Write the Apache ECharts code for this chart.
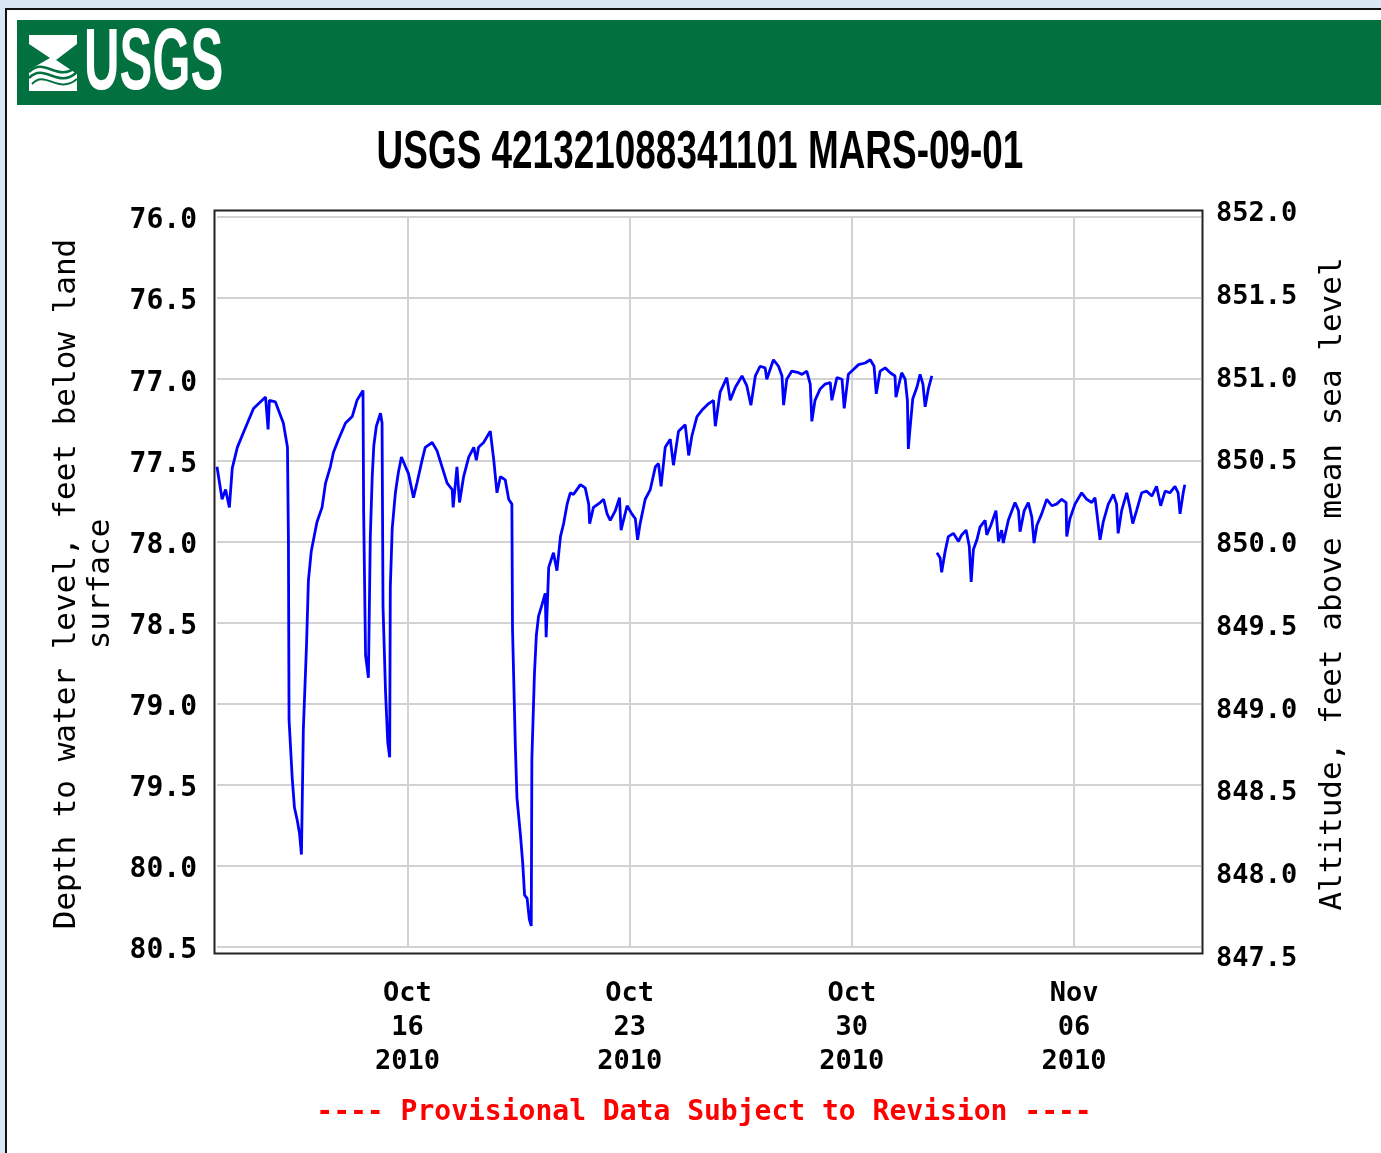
<!DOCTYPE html>
<html><head><meta charset="utf-8">
<script src="https://cdn.jsdelivr.net/npm/echarts@6/dist/echarts.min.js"></script>
<style>
html,body{margin:0;padding:0;background:#dbe7f4;overflow:hidden;}
#panel{position:absolute;left:5px;top:8px;width:1400px;height:1200px;background:#fff;border-left:2px solid #111;border-top:2px solid #111;}
#c{position:absolute;left:0;top:0;width:1381px;height:1153px;}
</style>
</head><body><div id="panel"></div><div id="c"></div>
<script>
// Time: days since 2010-10-10 00:00 ; value: depth to water level (feet below land surface)
const days = [
0.00,0.16,0.27,0.39,0.48,0.64,0.83,1.15,1.53,1.61,1.65,1.84,2.09,2.22,2.25,2.27,2.37,2.44,2.53,2.60,
2.66,2.72,2.82,2.88,2.97,3.10,3.15,3.31,3.42,3.57,3.67,3.83,4.05,4.26,4.41,4.60,4.62,4.68,4.77,4.83,
4.89,4.94,5.02,5.15,5.20,5.23,5.31,5.38,5.44,5.46,5.52,5.62,5.71,5.81,5.94,6.03,6.19,6.30,6.46,6.56,
6.78,6.93,7.09,7.25,7.41,7.44,7.56,7.64,7.77,7.93,8.09,8.17,8.24,8.40,8.61,8.72,8.82,8.93,9.08,9.19,
9.29,9.31,9.40,9.45,9.56,9.63,9.69,9.77,9.84,9.90,9.92,10.00,10.06,10.13,10.24,10.34,10.37,10.45,10.60,10.71,
10.82,10.92,11.03,11.13,11.23,11.45,11.60,11.71,11.74,11.86,12.07,12.18,12.29,12.39,12.55,12.68,12.73,12.92,13.07,13.18,
13.25,13.33,13.49,13.65,13.81,13.91,13.99,14.12,14.28,14.38,14.54,14.75,14.86,14.96,15.12,15.28,15.49,15.64,15.70,15.85,
16.06,16.17,16.33,16.54,16.69,16.82,16.96,17.11,17.27,17.32,17.53,17.69,17.80,17.85,17.95,18.11,18.32,18.43,18.58,18.69,
18.74,18.84,19.00,19.16,19.32,19.37,19.53,19.69,19.76,19.89,20.05,20.21,20.42,20.58,20.70,20.77,20.89,21.05,21.21,21.36,
21.39,21.57,21.68,21.75,21.78,21.83,21.92,22.05,22.15,22.24,22.31,22.41,22.52,
22.60,
22.68,22.78,22.83,22.94,23.04,23.20,23.36,23.46,23.60,23.70,23.76,23.83,23.94,24.04,24.20,24.25,24.38,24.54,24.62,24.72,
24.77,24.93,25.14,25.25,25.30,25.43,25.56,25.67,25.74,25.83,25.98,26.14,26.30,26.45,26.61,26.75,26.77,26.87,27.03,27.24,
27.40,27.56,27.66,27.71,27.82,27.92,28.08,28.24,28.34,28.39,28.50,28.66,28.76,28.85,28.97,29.13,29.29,29.45,29.60,29.73,
29.87,30.02,30.18,30.28,30.34,30.44,30.49
];
const depth = [
77.54,77.74,77.68,77.79,77.55,77.42,77.33,77.18,77.11,77.31,77.13,77.14,77.27,77.42,77.99,79.10,79.46,79.64,79.72,79.80,
79.93,79.16,78.64,78.24,78.06,77.93,77.88,77.79,77.64,77.54,77.45,77.37,77.27,77.23,77.13,77.07,77.82,78.70,78.84,77.97,
77.60,77.41,77.29,77.21,77.27,78.40,78.93,79.24,79.33,78.28,77.92,77.70,77.58,77.48,77.54,77.58,77.73,77.64,77.50,77.42,
77.39,77.44,77.54,77.64,77.68,77.79,77.54,77.76,77.60,77.48,77.42,77.50,77.42,77.39,77.32,77.50,77.70,77.60,77.62,77.74,
77.77,78.54,79.27,79.58,79.81,79.98,80.18,80.20,80.33,80.37,79.34,78.82,78.58,78.46,78.39,78.32,78.59,78.16,78.07,78.18,
77.97,77.89,77.77,77.70,77.71,77.65,77.67,77.77,77.89,77.79,77.76,77.74,77.83,77.87,77.81,77.73,77.93,77.78,77.83,77.86,
77.99,77.89,77.74,77.68,77.54,77.52,77.66,77.42,77.37,77.53,77.32,77.28,77.47,77.35,77.23,77.19,77.15,77.13,77.29,77.08,
76.99,77.13,77.05,76.98,77.04,77.16,76.98,76.92,76.93,77.00,76.88,76.92,76.98,77.16,77.00,76.95,76.96,76.97,76.95,77.03,
77.26,77.13,77.06,77.03,77.02,77.13,76.99,77.00,77.18,76.97,76.94,76.91,76.90,76.88,76.92,77.09,76.95,76.93,76.96,76.98,
77.11,76.96,77.00,77.13,77.43,77.31,77.12,77.05,76.97,77.03,77.17,77.06,76.98,
null,
78.07,78.10,78.19,78.06,77.97,77.95,78.00,77.96,77.93,78.03,78.25,78.05,77.99,77.91,77.87,77.96,77.90,77.81,78.00,77.93,
78.01,77.87,77.76,77.81,77.94,77.81,77.76,77.85,78.01,77.90,77.83,77.74,77.78,77.77,77.74,77.76,77.97,77.86,77.77,77.70,
77.74,77.76,77.73,77.81,77.99,77.88,77.77,77.71,77.77,77.95,77.81,77.70,77.79,77.89,77.81,77.70,77.69,77.72,77.66,77.78,
77.69,77.70,77.66,77.70,77.83,77.70,77.65
];
const xRange = [0, 31];                       // Oct 10 2010 .. Nov 10 2010
const tickDays = [6, 13, 20, 27];
const tickLabels = ['Oct\n16\n2010', 'Oct\n23\n2010', 'Oct\n30\n2010', 'Nov\n06\n2010'];
const depthRange = [76.0, 80.5];
const altRange = [847.5, 852.0];
const step = 0.5;

const title = 'USGS 421321088341101 MARS-09-01';
const leftName = 'Depth to water level, feet below land\nsurface';
const rightName = 'Altitude, feet above mean sea level';
const note = '---- Provisional Data Subject to Revision ----';

const seriesData = days.map((d, i) => [d, depth[i] === null ? '-' : depth[i]]);
const tickFont = '"DejaVu Sans Mono", "Liberation Mono", monospace';
const green = '#02703f';

const chart = echarts.init(document.getElementById('c'), null, {renderer: 'canvas'});
chart.setOption({
  backgroundColor: 'transparent',
  animation: false,
  grid: [
    {left: 217, right: 180, top: 217, bottom: 206},
    {left: 217, right: 180, top: 211, bottom: 197}
  ],
  xAxis: [
    {
      type: 'value', gridIndex: 0, min: xRange[0], max: xRange[1],
      axisLine: {show: false}, axisTick: {show: false, customValues: tickDays},
      axisLabel: {
        customValues: tickDays, margin: 30,
        formatter: v => tickLabels[tickDays.indexOf(v)] || '',
        fontFamily: tickFont, fontWeight: 'bold', fontSize: 27, lineHeight: 34, color: '#000'
      },
      splitLine: {show: true, lineStyle: {color: '#d2d2d2', width: 2}}
    },
    {type: 'value', gridIndex: 1, min: xRange[0], max: xRange[1], show: false}
  ],
  yAxis: [
    {
      type: 'value', gridIndex: 0, inverse: true, min: depthRange[0], max: depthRange[1], interval: step,
      axisLine: {show: false}, axisTick: {show: false},
      axisLabel: {formatter: v => v.toFixed(1), margin: 20, verticalAlign: 'top', lineHeight: 8, fontFamily: tickFont, fontWeight: 'bold', fontSize: 28, color: '#000'},
      splitLine: {show: true, lineStyle: {color: '#d2d2d2', width: 2}}
    },
    {
      type: 'value', gridIndex: 1, position: 'right', min: altRange[0], max: altRange[1], interval: step,
      axisLine: {show: false}, axisTick: {show: false}, splitLine: {show: false},
      axisLabel: {formatter: v => v.toFixed(1), margin: 15, verticalAlign: 'top', lineHeight: 6, fontFamily: tickFont, fontWeight: 'bold', fontSize: 27, color: '#000'}
    }
  ],
  series: [{
    type: 'line', xAxisIndex: 0, yAxisIndex: 0, data: seriesData,
    showSymbol: false, connectNulls: false,
    lineStyle: {color: '#0000ff', width: 2.8}, z: 5
  }],
  graphic: [
    {type: 'rect', shape: {x: 17, y: 20, width: 1400, height: 85}, style: {fill: green}, z: 1},
    {type: 'rect', shape: {x: 29, y: 35, width: 48, height: 56}, style: {fill: '#fff'}, z: 2},
    {type: 'polygon', shape: {points: [[29, 44], [50, 58], [29, 70]]}, style: {fill: green}, z: 3},
    {type: 'polygon', shape: {points: [[77, 44], [56, 60], [77, 74]]}, style: {fill: green}, z: 3},
    {type: 'bezierCurve', shape: {x1: 29, y1: 72, x2: 77, y2: 66, cpx1: 45, cpy1: 56, cpx2: 58, cpy2: 84}, style: {stroke: green, lineWidth: 2.5, fill: null}, z: 4},
    {type: 'bezierCurve', shape: {x1: 29, y1: 78, x2: 77, y2: 72, cpx1: 45, cpy1: 62, cpx2: 58, cpy2: 90}, style: {stroke: green, lineWidth: 2.5, fill: null}, z: 4},
    {type: 'bezierCurve', shape: {x1: 32, y1: 84, x2: 77, y2: 79, cpx1: 45, cpy1: 69, cpx2: 58, cpy2: 95}, style: {stroke: green, lineWidth: 2, fill: null}, z: 4},
    {type: 'text', x: 84, y: 65, scaleX: 0.565, z: 4,
      style: {text: 'USGS', font: 'bold 87px "Liberation Sans", Arial, sans-serif', fill: '#fff', textAlign: 'left', textVerticalAlign: 'middle'}},
    {type: 'text', x: 700, y: 153, scaleX: 0.684, z: 4,
      style: {text: title, font: 'bold 54px "Liberation Sans", Arial, sans-serif', fill: '#000', textAlign: 'center', textVerticalAlign: 'middle'}},
    {type: 'rect', shape: {x: 214.5, y: 210.5, width: 988, height: 743}, style: {fill: null, stroke: '#222', lineWidth: 2}, z: 10},
    {type: 'text', x: 84, y: 584, rotation: Math.PI / 2, z: 4,
      style: {text: leftName, font: '31px ' + tickFont, fill: '#000', textAlign: 'center', textVerticalAlign: 'middle', lineHeight: 34}},
    {type: 'text', x: 1333, y: 584, rotation: Math.PI / 2, z: 4,
      style: {text: rightName, font: '31px ' + tickFont, fill: '#000', textAlign: 'center', textVerticalAlign: 'middle'}},
    {type: 'text', x: 704, y: 1113, z: 4,
      style: {text: note, font: 'bold 28px ' + tickFont, fill: '#ff0000', textAlign: 'center', textVerticalAlign: 'middle'}}
  ]
});
</script>
</body></html>
